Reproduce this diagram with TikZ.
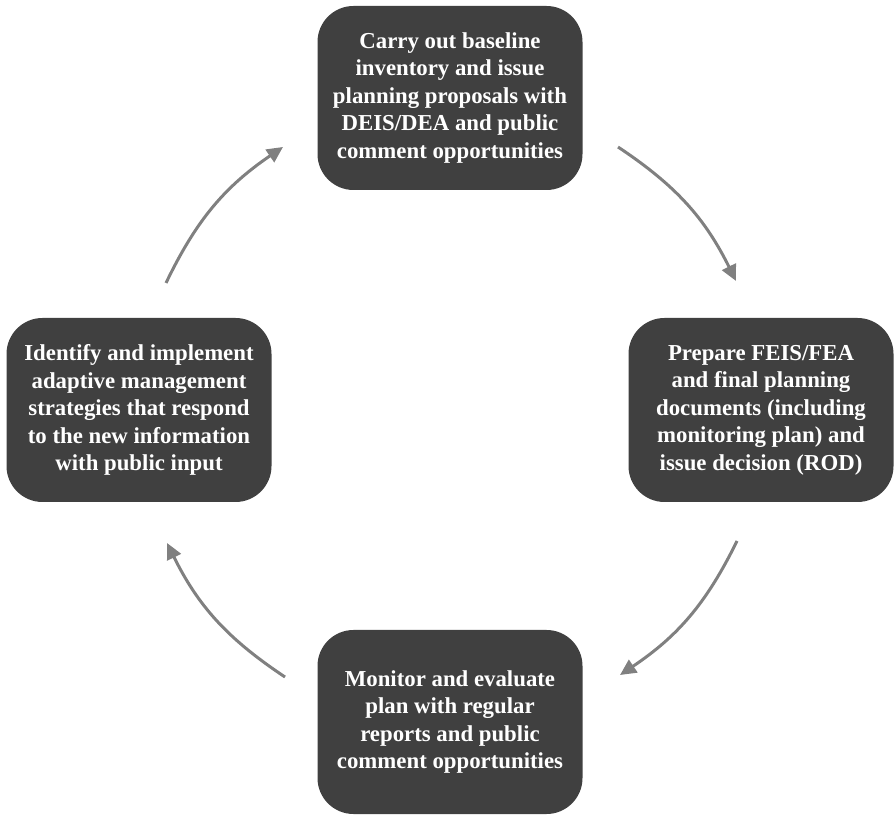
\documentclass[tikz,border=0pt]{standalone}
\usepackage{fontspec}
\setmainfont{Liberation Serif}
\usepackage{tikz}
\usetikzlibrary{arrows.meta}

\definecolor{boxgray}{HTML}{404040}
\definecolor{arrowgray}{HTML}{808080}

\begin{document}
\begin{tikzpicture}[x=1pt,y=1pt,
        stepbox/.style={draw=none, fill=boxgray, rounded corners=36pt,
                minimum width=265pt, minimum height=184pt, inner sep=0pt,
                text=white, align=center,
                font=\fontsize{22.8}{27.5}\selectfont\bfseries},
        cycle/.style={draw=arrowgray, line width=3pt,
                -{Triangle[length=16pt,width=15pt]}}]

        \useasboundingbox (0,0) rectangle (896,816);

        %Steps
        \node [stepbox] (baseline) at (450,718) {Carry out baseline\\inventory and issue\\planning proposals with\\DEIS/DEA and public\\comment opportunities};
        \node [stepbox] (prepare) at (761,406) {Prepare FEIS/FEA\\and final planning\\documents (including\\monitoring plan) and\\issue decision (ROD)};
        \node [stepbox] (monitor) at (450,94) {Monitor and evaluate\\plan with regular\\reports and public\\comment opportunities};
        \node [stepbox] (adapt) at (139,406) {Identify and implement\\adaptive management\\strategies that respond\\to the new information\\with public input};

        %Arrow ends
        \coordinate (b1) at (618,669);
        \coordinate (p0) at (736,535);
        \coordinate (p1) at (737,275);
        \coordinate (m0) at (620,141);
        \coordinate (m1) at (285,139);
        \coordinate (a0) at (167,273);
        \coordinate (a1) at (166,533);
        \coordinate (b0) at (283,669);

        %Arrows
        \draw [cycle] (b1) to [bend left=15] (p0);
        \draw [cycle] (p1) to [bend left=15] (m0);
        \draw [cycle] (m1) to [bend left=15] (a0);
        \draw [cycle] (a1) to [bend left=15] (b0);

\end{tikzpicture}
\end{document}
